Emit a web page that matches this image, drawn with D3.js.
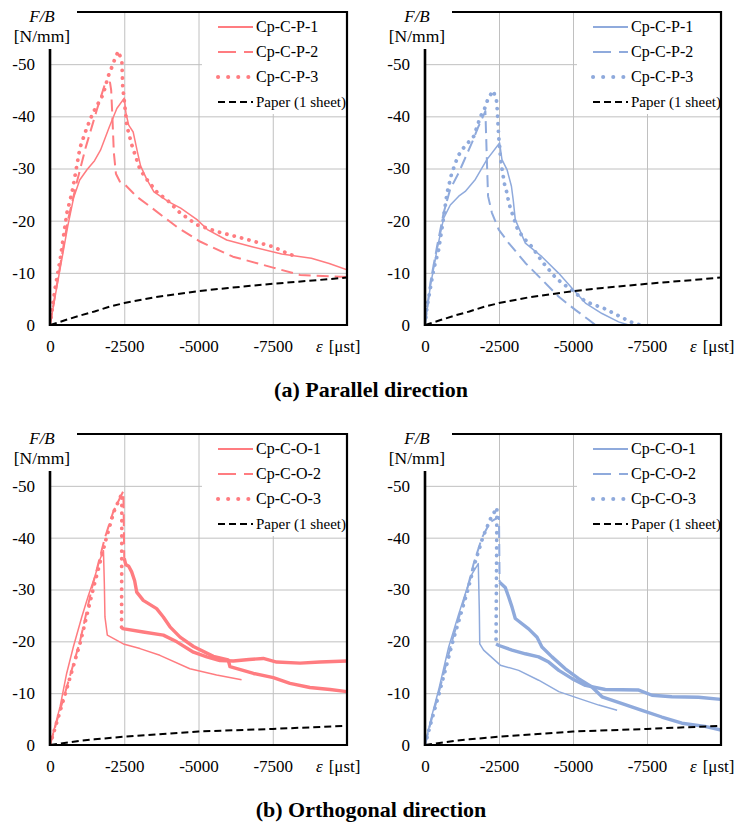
<!DOCTYPE html>
<html>
<head>
<meta charset="utf-8">
<script src="https://cdn.jsdelivr.net/npm/d3@7"></script>
<style>
  body { margin: 0; background: #fff; }
</style>
</head>
<body>
<script>
// strain [μst], F/B [N/mm]
var xTicks = [0, -2500, -5000, -7500];
var yTicks = [0, -10, -20, -30, -40, -50];
var gridX = [-2500, -5000, -7500];
var gridY = [-10, -20, -30, -40, -50];

var namesP = ["Cp-C-P-1", "Cp-C-P-2", "Cp-C-P-3", "Paper (1 sheet)"];
var namesO = ["Cp-C-O-1", "Cp-C-O-2", "Cp-C-O-3", "Paper (1 sheet)"];
var titles = ["(a) Parallel direction", "(b) Orthogonal direction"];

// (a) parallel, red
var redP1 = [[0,0],[-300,-9.5],[-600,-19],[-800,-24.5],[-1000,-27.8],[-1250,-29.8],[-1500,-31.5],[-1700,-33.5],
  [-2000,-38],[-2250,-41.5],[-2500,-43.5],[-2560,-40.5],[-2650,-38.3],[-2800,-37],[-2950,-33],[-3050,-30.5],
  [-3250,-28],[-3500,-25.5],[-4000,-23.6],[-4400,-22.4],[-4950,-20.2],[-5300,-18.3],[-5950,-16.3],[-6800,-15],
  [-7800,-13.6],[-8800,-12.8],[-9400,-11.8],[-10000,-10.6]];
var redP2 = [[0,0],[-300,-10],[-600,-20],[-900,-27.3],[-1200,-34],[-1580,-41.3],[-1850,-46.2],[-2020,-46.5],
  [-2060,-45],[-2100,-40],[-2150,-33],[-2220,-29],[-2350,-27.5],[-2525,-26.9],[-2800,-25.3],[-2920,-24.6],
  [-3370,-22.7],[-4270,-18.8],[-5050,-16],[-6160,-13.1],[-7510,-11],[-8420,-9.6],[-10000,-9.2]];
var redP3 = [[0,0],[-170,-7],[-340,-12.5],[-570,-21.5],[-740,-25.4],[-840,-28.5],[-1010,-34],[-1240,-37.8],
  [-1450,-40.7],[-1790,-44.2],[-1960,-47.7],[-2080,-49.4],[-2190,-51.1],[-2300,-52.5],[-2420,-50.6],
  [-2450,-45.5],[-2490,-43.6],[-2590,-38.1],[-2750,-34.6],[-3030,-29.8],[-3260,-27.9],[-3640,-25.2],
  [-3940,-24],[-4380,-21.5],[-4950,-19.2],[-5620,-17.9],[-6570,-16.5],[-7510,-15],[-8080,-13.5],[-8300,-13.2]];

// (a) parallel, blue
var blueP1 = [[0,0],[-180,-7.4],[-405,-14.4],[-630,-20.5],[-855,-23],[-1140,-24.7],[-1360,-25.6],[-1700,-27.9],
  [-2090,-31.7],[-2520,-34.9],[-2600,-31.7],[-2770,-29.8],[-2920,-26.6],[-2980,-24],[-3050,-20.2],[-3390,-15.7],
  [-3950,-13.1],[-4520,-9.9],[-5020,-6.7],[-5420,-4.2],[-5980,-2.2],[-6540,-0.6],[-6880,0]];
var blueP2 = [[0,0],[-180,-8],[-405,-15],[-630,-21.5],[-850,-26],[-1140,-29.2],[-1590,-35],[-1810,-38.1],
  [-2040,-41],[-2090,-31.7],[-2130,-24.7],[-2260,-21.5],[-2490,-18.3],[-2830,-15.7],[-3390,-11.9],
  [-3950,-8.7],[-4520,-5.4],[-5080,-2.9],[-5530,-1],[-5760,0]];
var blueP3 = [[0,0],[-70,-3.5],[-290,-10.6],[-460,-14.4],[-610,-19.9],[-745,-25.3],[-820,-27.1],[-890,-28.8],
  [-1000,-30.6],[-1115,-32.4],[-1310,-34],[-1650,-36.2],[-1870,-39.9],[-2015,-41.5],[-2130,-43.4],[-2300,-44.9],
  [-2410,-43.3],[-2440,-41.3],[-2455,-39.7],[-2490,-36.1],[-2520,-34.3],[-2545,-32.4],[-2580,-30.6],[-2690,-26.9],
  [-2770,-25.3],[-2830,-23.4],[-2940,-21.5],[-3130,-18.3],[-3330,-16.7],[-3610,-15],[-3950,-12.2],[-4380,-9.3],
  [-4630,-8],[-4970,-6.7],[-5420,-4.5],[-6040,-3.2],[-6600,-1.6],[-6935,-0.6],[-7270,0]];

var paperP = [[0,0],[-500,-0.9],[-1000,-1.8],[-1500,-2.6],[-2000,-3.5],[-2500,-4.2],[-3500,-5.3],[-5000,-6.5],
  [-6000,-7.1],[-7500,-7.9],[-9000,-8.6],[-10000,-9.1]];

// (b) orthogonal, red
var redO1 = [[0,0],[-340,-7.4],[-560,-13.8],[-785,-18.9],[-1070,-24.7],[-1290,-28.8],[-1500,-32.3],[-1680,-35.8],
  [-1800,-37.5],[-1830,-31],[-1850,-24.7],[-1930,-21.2],[-2470,-19.5],[-3030,-18.6],[-3700,-17.3],[-4710,-14.7],
  [-5610,-13.5],[-6450,-12.6]];
var redO2 = [[0,0],[-250,-5],[-505,-10],[-1010,-20],[-1400,-30],[-1850,-40],[-2130,-45],[-2470,-49],[-2500,-36],
  [-2550,-34.8],[-2650,-34.5],[-2750,-33.4],[-2850,-31.7],[-2920,-29.5],[-3140,-27.9],[-3590,-26.3],[-3815,-24.7],
  [-4040,-22.8],[-4380,-20.8],[-4830,-19],[-5500,-17.1],[-6000,-16.4],[-6060,-15.1],[-6850,-13.8],[-7520,-13],
  [-8080,-11.9],[-8750,-11.1],[-9430,-10.7],[-10000,-10.3]];
var redO3 = [[0,0],[-260,-5],[-520,-10],[-1030,-20],[-1450,-30],[-1900,-40],[-2150,-45],[-2420,-48.5],[-2410,-22.5],
  [-2500,-22.4],[-3140,-21.8],[-3815,-21.2],[-4270,-19.9],[-4830,-17.9],[-5280,-17],[-5720,-16.3],[-6170,-16.2],
  [-6700,-16.5],[-7180,-16.7],[-7630,-16],[-8420,-15.8],[-9090,-16],[-10000,-16.2]];

// (b) orthogonal, blue
var blueO1 = [[0,0],[-200,-5],[-460,-10.6],[-800,-18.9],[-1140,-25.3],[-1360,-29.2],[-1590,-33],[-1760,-34.6],
  [-1800,-35],[-1835,-26],[-1850,-19.5],[-1980,-18.3],[-2545,-15.4],[-3165,-14.4],[-3840,-12.5],[-4520,-10.3],
  [-5190,-9],[-5870,-7.7],[-6490,-6.7]];
var blueO2 = [[0,0],[-200,-4.5],[-460,-10],[-910,-20],[-1420,-30],[-1645,-35],[-1925,-40],[-2200,-43],[-2500,-44],
  [-2520,-31.4],[-2710,-30.4],[-2830,-28.5],[-2940,-26.6],[-3050,-24.4],[-3500,-22.4],[-3785,-20.8],[-3950,-18.9],
  [-4290,-17],[-4740,-14.7],[-5190,-12.8],[-5640,-11.2],[-5980,-9.3],[-6660,-8],[-7330,-6.7],[-8000,-5.4],
  [-8680,-4.2],[-9460,-3.6],[-10000,-2.9]];
var blueO3 = [[0,0],[-200,-4.3],[-480,-10],[-940,-20],[-1450,-30],[-1680,-35],[-1950,-40],[-2200,-43.5],
  [-2430,-45.8],[-2400,-19.5],[-2500,-19.2],[-2940,-18.3],[-3390,-17.6],[-3840,-17],[-4180,-16],[-4520,-14.4],
  [-4970,-12.8],[-5420,-11.5],[-6090,-10.7],[-7220,-10.6],[-7670,-9.6],[-8340,-9.3],[-9240,-9.2],[-10000,-8.8]];

var paperO = [[0,0],[-1000,-0.8],[-1500,-1.1],[-2500,-1.6],[-5000,-2.6],[-7500,-3.1],[-10000,-3.7]];

var red = "#ff7c80", blue = "#8faadc";

// line styles: solid, long dash, round dot, black dash
var styles = [
  {dash: null, width: 1.5, cap: "butt"},
  {dash: "12,6", width: 2, cap: "butt"},
  {dash: "0.1,7.5", width: 3.8, cap: "round"},
  {dash: "7,4", width: 2, cap: "butt", color: "#000"}
];

var panels = [
  {x0: 50, x1: 347, y0: 12, y1: 325, color: red, names: namesP, series: [redP1, redP2, redP3, paperP], dense: false},
  {x0: 425, x1: 721, y0: 12, y1: 325, color: blue, names: namesP, series: [blueP1, blueP2, blueP3, paperP], dense: false},
  {x0: 50, x1: 347, y0: 434, y1: 745, color: red, names: namesO, series: [redO1, redO2, redO3, paperO], dense: true},
  {x0: 425, x1: 721, y0: 434, y1: 745, color: blue, names: namesO, series: [blueO1, blueO2, blueO3, paperO], dense: true}
];

var svg = d3.select("body").append("svg")
  .attr("width", 743)
  .attr("height", 826);

panels.forEach(function(p, pi) {
  var x = d3.scaleLinear().domain([0, -10000]).range([p.x0, p.x1]);
  var y = d3.scaleLinear().domain([0, -60]).range([p.y1, p.y0]);
  var g = svg.append("g");

  // gridlines
  g.append("g")
   .attr("transform", "translate(" + p.x0 + ",0)")
   .call(d3.axisLeft(y).tickValues(gridY).tickSize(-(p.x1 - p.x0)).tickFormat(""))
   .call(function(a) { a.select(".domain").remove(); a.selectAll("line").attr("stroke", "#c0c0c0"); });
  g.append("g")
   .attr("transform", "translate(0," + p.y1 + ")")
   .call(d3.axisBottom(x).tickValues(gridX).tickSize(-(p.y1 - p.y0)).tickFormat(""))
   .call(function(a) { a.select(".domain").remove(); a.selectAll("line").attr("stroke", "#c0c0c0"); });

  // clip to plot area
  var clipId = "clip" + pi;
  svg.append("clipPath").attr("id", clipId)
     .append("rect").attr("x", p.x0).attr("y", p.y0).attr("width", p.x1 - p.x0).attr("height", p.y1 - p.y0);
  var plot = g.append("g").attr("clip-path", "url(#" + clipId + ")");

  var line = d3.line().x(function(d) { return x(d[0]); }).y(function(d) { return y(d[1]); });

  // white legend box hides the gridlines behind it
  var lgX = p.x0 + 152;
  g.append("rect")
   .attr("x", lgX).attr("y", p.y0 + 1)
   .attr("width", p.x1 - lgX - 1).attr("height", 101)
   .attr("fill", "#fff");

  p.series.forEach(function(data, si) {
    var st = styles[si];
    var col = st.color || p.color;
    var end = data.length;
    // noisy post-peak records look like a thick band
    if (p.dense && (si == 1 || si == 2)) {
      var pk = d3.minIndex(data, function(d) { return d[1]; });
      end = pk + 2;
      plot.append("path")
          .datum(data.slice(pk + 1))
          .attr("d", line)
          .attr("fill", "none")
          .attr("stroke", col)
          .attr("stroke-width", 3.4)
          .attr("stroke-linejoin", "round");
    }
    plot.append("path")
        .datum(data.slice(0, end))
        .attr("d", line)
        .attr("fill", "none")
        .attr("stroke", col)
        .attr("stroke-width", st.width)
        .attr("stroke-dasharray", st.dash)
        .attr("stroke-linecap", st.cap)
        .attr("stroke-linejoin", "round");
  });

  // frame
  var fw = 2.2;
  g.append("line").attr("x1", p.x0).attr("x2", p.x1).attr("y1", p.y1).attr("y2", p.y1).attr("stroke", "#000").attr("stroke-width", fw);
  g.append("line").attr("x1", p.x0).attr("x2", p.x0).attr("y1", p.y0 + 37).attr("y2", p.y1 + 1).attr("stroke", "#000").attr("stroke-width", fw + 0.4);
  g.append("line").attr("x1", p.x1).attr("x2", p.x1).attr("y1", p.y0 - 1).attr("y2", p.y1 + 1).attr("stroke", "#000").attr("stroke-width", fw);
  g.append("line").attr("x1", p.x0 + 27).attr("x2", p.x1 + 1).attr("y1", p.y0).attr("y2", p.y0).attr("stroke", "#000").attr("stroke-width", fw);

  // tick labels
  g.append("g")
   .attr("transform", "translate(" + p.x0 + ",0)")
   .call(d3.axisLeft(y).tickValues(yTicks).tickSize(0).tickPadding(15).tickFormat(function(d) { return String(d); }))
   .call(function(a) { a.select(".domain").remove(); a.selectAll("text").attr("font-size", 17); });
  g.append("g")
   .attr("transform", "translate(0," + p.y1 + ")")
   .call(d3.axisBottom(x).tickValues(xTicks).tickSize(0).tickPadding(15).tickFormat(function(d) { return String(d); }))
   .call(function(a) { a.select(".domain").remove(); a.selectAll("text").attr("font-size", 17); });

  // axis titles
  var xl = g.append("text")
   .attr("x", p.x1 - 31).attr("y", p.y1 + 27)
   .attr("font-size", 17);
  xl.append("tspan").attr("font-style", "italic").text("ε");
  xl.append("tspan").attr("dx", 6).text("[μst]");

  g.append("text")
   .attr("x", p.x0 - 8).attr("y", p.y0 + 10)
   .attr("text-anchor", "middle").attr("font-size", 17).attr("font-style", "italic")
   .text("F/B");
  g.append("text")
   .attr("x", p.x0 - 8).attr("y", p.y0 + 30)
   .attr("text-anchor", "middle").attr("font-size", 17.5)
   .text("[N/mm]");

  // legend
  p.names.forEach(function(name, i) {
    var st = styles[i];
    var cy = p.y0 + 15 + 25 * i;
    g.append("line")
     .attr("x1", p.x0 + 168).attr("x2", p.x0 + 203)
     .attr("y1", cy).attr("y2", cy)
     .attr("stroke", st.color || p.color)
     .attr("stroke-width", i == 2 ? 4 : 2)
     .attr("stroke-dasharray", i == 1 ? "18,8" : (i == 2 ? "0.1,10" : (i == 3 ? "7,4" : null)))
     .attr("stroke-linecap", st.cap);
    g.append("text")
     .attr("x", p.x0 + 206).attr("y", cy + 5)
     .attr("font-size", i == 3 ? 15 : 16)
     .text(name);
  });
});

svg.selectAll(".title")
   .data(titles)
   .enter()
   .append("text")
   .attr("class", "title")
   .attr("x", 371)
   .attr("y", function(d, i) { return i == 0 ? 397 : 817; })
   .attr("text-anchor", "middle")
   .attr("font-size", 22)
   .attr("font-weight", "bold")
   .text(function(d) { return d; });

// one serif face for every label
svg.selectAll("text")
   .style("font-family", "'Liberation Serif'")
   .style("fill", "#000");
</script>
</body>
</html>
